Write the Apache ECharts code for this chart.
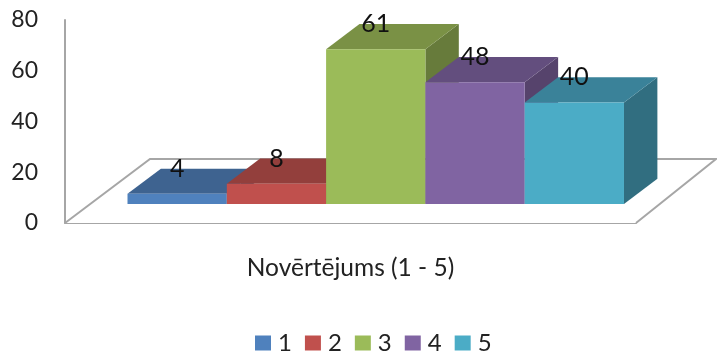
<!DOCTYPE html>
<html>
<head>
<meta charset="utf-8">
<style>html,body{margin:0;padding:0;background:#fff}#chart{width:717px;height:352px}</style>
<script src="https://cdn.jsdelivr.net/npm/echarts@6/dist/echarts.min.js"></script>
</head>
<body>
<div id="chart"></div>
<script>
// Ratings survey: number of answers per score, drawn as a 3D-style column chart.
const categories = ['Novērtējums (1 - 5)'];
const seriesNames = ['1', '2', '3', '4', '5'];
const seriesValues = [4, 8, 61, 48, 40];
const frontColors = ['#4F81BD', '#C0504D', '#9BBB59', '#8064A2', '#4BACC6'];
const topColors = ['#3E6390', '#933F3C', '#7A9145', '#634E7E', '#3A8299'];
const sideColors = ['#355579', '#7C3532', '#677B3B', '#56436C', '#316E80'];
const yTicks = { min: 0, max: 80, interval: 20 };

const FONT = 'Lato, "Open Sans", sans-serif';
// Floor parallelogram offset from the front edge, in pixels.
const FLOOR_DX = 85, FLOOR_DY = -64;
// Columns sit between these fractions of the floor depth.
const NEAR = 0.297, FAR = 0.69;
const COLUMN_SHARE = 0.1739;

function renderFloor(params, api) {
  const cs = params.coordSys;
  const x0 = cs.x, x1 = cs.x + cs.width, y = cs.y + cs.height;
  return {
    type: 'polyline',
    shape: { points: [[x0, y], [x0 + FLOOR_DX, y + FLOOR_DY], [x1 + FLOOR_DX - 5, y + FLOOR_DY], [x1, y]] },
    style: { fill: '#fff', stroke: '#A6A6A6', lineWidth: 2 }
  };
}

function columnRenderer(index) {
  return function (params, api) {
    const value = api.value(1);
    const base = api.coord([0, 0]);
    const head = api.coord([0, value]);
    const band = api.size([1, 0])[0];
    const w = band * COLUMN_SHARE;
    const nearX = FLOOR_DX * NEAR, nearY = FLOOR_DY * NEAR;
    const farX = FLOOR_DX * (FAR - NEAR), farY = FLOOR_DY * (FAR - NEAR);
    const left = base[0] + nearX + (index - seriesNames.length / 2) * w;
    const right = left + w;
    const bottom = base[1] + nearY;
    const top = head[1] + nearY;
    const poly = (pts, fill) => ({ type: 'polygon', shape: { points: pts }, style: { fill: fill } });
    return {
      type: 'group',
      children: [
        poly([[right, bottom], [right + farX, bottom + farY], [right + farX, top + farY], [right, top]], sideColors[index]),
        poly([[left, top], [left + farX, top + farY], [right + farX, top + farY], [right, top]], topColors[index]),
        poly([[left, bottom], [right, bottom], [right, top], [left, top]], frontColors[index]),
        {
          type: 'text',
          z2: 10,
          style: {
            text: String(value),
            x: (left + right) / 2,
            y: top + farY,
            align: 'center',
            verticalAlign: 'middle',
            fill: '#111',
            font: '25px ' + FONT
          }
        }
      ]
    };
  };
}

const chart = echarts.init(document.getElementById('chart'), null, { renderer: 'canvas' });
chart.setOption({
  animation: false,
  backgroundColor: '#fff',
  grid: { left: 65, top: 20, width: 571, height: 203 },
  legend: {
    data: seriesNames,
    left: 250,
    top: 326,
    itemWidth: 16,
    itemHeight: 15,
    itemGap: 13,
    icon: 'rect',
    textStyle: { fontFamily: FONT, fontSize: 24, color: '#222', padding: [0, 0, 0, 2] }
  },
  xAxis: {
    type: 'category',
    data: categories,
    axisLine: { show: true, lineStyle: { color: '#A6A6A6', width: 2 } },
    axisTick: { show: false },
    axisLabel: { margin: 33, fontFamily: FONT, fontSize: 24.5, color: '#222' }
  },
  yAxis: {
    type: 'value',
    min: yTicks.min,
    max: yTicks.max,
    interval: yTicks.interval,
    splitLine: { show: false },
    axisTick: { show: false },
    axisLine: { show: true, lineStyle: { color: '#A6A6A6', width: 2 } },
    axisLabel: { margin: 27, fontFamily: FONT, fontSize: 23, color: '#222', padding: [14, 0, 0, 0] }
  },
  series: [
    { type: 'custom', name: 'floor', silent: true, renderItem: renderFloor, data: [[0, 0]], encode: { x: 0, y: 1 } }
  ].concat(seriesNames.map((name, i) => ({
    type: 'custom',
    name: name,
    renderItem: columnRenderer(i),
    itemStyle: { color: frontColors[i] },
    data: [[0, seriesValues[i]]],
    encode: { x: 0, y: 1 }
  })))
});
</script>
</body>
</html>
